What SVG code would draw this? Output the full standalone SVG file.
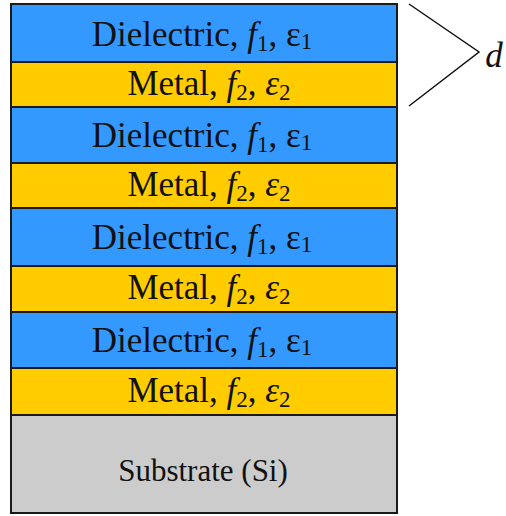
<svg xmlns="http://www.w3.org/2000/svg" width="506" height="516" viewBox="0 0 506 516">
  <style>
    .layer { stroke: #1a1a1a; stroke-width: 2; }
    .diel { fill: #3399ff; }
    .metal { fill: #ffcc00; }
    .sub { fill: #cccccc; }
    .lbl { font-size: 35px; fill: #111111; text-anchor: middle; }
    .it { font-style: italic; }
    .sm { font-size: 23px; }
    .brace { fill: none; stroke: #111111; stroke-width: 1.5; }
  </style>
  <rect width="506" height="516" fill="#ffffff"/>

  <g font-family="Liberation Serif, Times New Roman, Times, Tinos, Noto Serif, DejaVu Serif, FreeSerif, serif">
  <g id="dielectric1">
    <rect class="layer diel" x="11" y="4" width="386" height="58"/>
    <text class="lbl" x="202" y="46">Dielectric, <tspan class="it">f</tspan><tspan class="sm" dy="5">1</tspan><tspan dy="-5">, ε</tspan><tspan class="sm" dy="3">1</tspan></text>
  </g>
  <g id="metal1">
    <rect class="layer metal" x="11" y="62" width="386" height="45"/>
    <text class="lbl" x="209" y="95">Metal, <tspan class="it">f</tspan><tspan class="sm" dy="5">2</tspan><tspan dy="-5">, </tspan><tspan class="it">ε</tspan><tspan class="sm" dy="5">2</tspan></text>
  </g>
  <g id="dielectric2">
    <rect class="layer diel" x="11" y="107" width="386" height="56"/>
    <text class="lbl" x="202" y="147">Dielectric, <tspan class="it">f</tspan><tspan class="sm" dy="5">1</tspan><tspan dy="-5">, ε</tspan><tspan class="sm" dy="3">1</tspan></text>
  </g>
  <g id="metal2">
    <rect class="layer metal" x="11" y="163" width="386" height="45"/>
    <text class="lbl" x="209" y="196">Metal, <tspan class="it">f</tspan><tspan class="sm" dy="5">2</tspan><tspan dy="-5">, </tspan><tspan class="it">ε</tspan><tspan class="sm" dy="5">2</tspan></text>
  </g>
  <g id="dielectric3">
    <rect class="layer diel" x="11" y="208" width="386" height="58"/>
    <text class="lbl" x="202" y="249">Dielectric, <tspan class="it">f</tspan><tspan class="sm" dy="5">1</tspan><tspan dy="-5">, ε</tspan><tspan class="sm" dy="3">1</tspan></text>
  </g>
  <g id="metal3">
    <rect class="layer metal" x="11" y="266" width="386" height="46"/>
    <text class="lbl" x="209" y="299">Metal, <tspan class="it">f</tspan><tspan class="sm" dy="5">2</tspan><tspan dy="-5">, </tspan><tspan class="it">ε</tspan><tspan class="sm" dy="5">2</tspan></text>
  </g>
  <g id="dielectric4">
    <rect class="layer diel" x="11" y="312" width="386" height="56"/>
    <text class="lbl" x="202" y="352">Dielectric, <tspan class="it">f</tspan><tspan class="sm" dy="5">1</tspan><tspan dy="-5">, ε</tspan><tspan class="sm" dy="3">1</tspan></text>
  </g>
  <g id="metal4">
    <rect class="layer metal" x="11" y="368" width="386" height="47"/>
    <text class="lbl" x="209" y="402">Metal, <tspan class="it">f</tspan><tspan class="sm" dy="5">2</tspan><tspan dy="-5">, </tspan><tspan class="it">ε</tspan><tspan class="sm" dy="5">2</tspan></text>
  </g>
  <g id="substrate">
    <rect class="layer sub" x="11" y="415" width="386" height="98"/>
    <text class="lbl" x="203" y="481" style="font-size:31px">Substrate (Si)</text>
  </g>

  <g id="connectors">
    <polyline class="brace" points="409,4 479,52 409,106"/>
  </g>
  <g id="period-label">
    <text class="lbl it" x="494" y="67">d</text>
  </g>
  </g>
</svg>
